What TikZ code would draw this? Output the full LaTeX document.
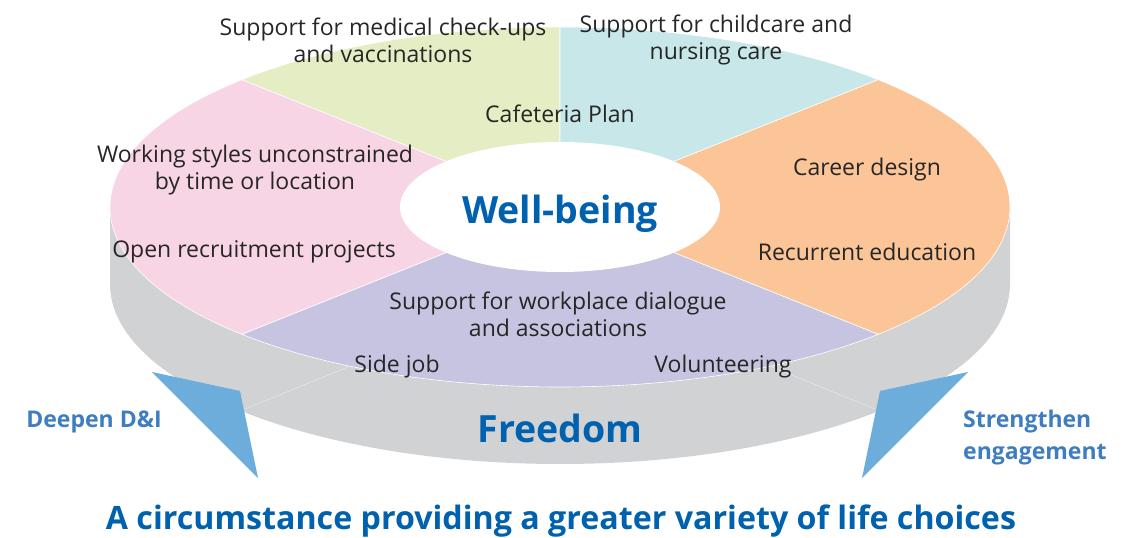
\documentclass[tikz,border=0pt]{standalone}
\usepackage{fontspec}
\setmainfont{Open Sans}
\usetikzlibrary{calc}
\definecolor{cgreen}{HTML}{E4EDC4}
\definecolor{ccyan}{HTML}{C7E7E8}
\definecolor{corange}{HTML}{FBC598}
\definecolor{cpink}{HTML}{F8D5E5}
\definecolor{cpurple}{HTML}{C7C4E1}
\definecolor{cgray}{HTML}{D1D2D4}
\definecolor{ctri}{HTML}{6CADDC}
\definecolor{ctitle}{HTML}{0061AE}
\definecolor{clabel}{HTML}{3F7DC1}
\definecolor{ctext}{HTML}{262626}
\tikzset{
  item/.style={text=ctext, font=\fontsize{23}{27}\selectfont, align=center, inner sep=0pt},
  bigword/.style={text=ctitle, font=\fontsize{37.5}{42}\selectfont\bfseries, inner sep=0pt},
  sidelabel/.style={text=clabel, font=\fontsize{23}{32}\selectfont\bfseries, inner sep=0pt},
  sector/.style={draw=white, line width=0.6pt}
}
\newcommand{\sect}[3]{\fill[#1, sector] (560,207) -- ($(560,207)+(#2:450 and 180)$) arc[start angle=#2, end angle=#3, x radius=450, y radius=180] -- cycle;}
\begin{document}
\begin{tikzpicture}[x=1pt, y=-1pt]
\useasboundingbox (0,0) rectangle (1141,538);
% cylinder side
\fill[cgray] (110,207) -- (110,284) arc[start angle=180, end angle=0, x radius=450, y radius=180] -- (1010,207) -- cycle;
\draw[white, opacity=0.5, line width=0.5pt] (348,367) -- (245,409);
\draw[white, opacity=0.5, line width=0.5pt] (772,367) -- (875,409);
% top sectors
\sect{cgreen}{225}{270}
\sect{ccyan}{270}{315}
\sect{corange}{315}{405}
\sect{cpurple}{45}{135}
\sect{cpink}{135}{225}
\fill[white] (560,207) ellipse[x radius=160, y radius=65];
% triangles
\fill[ctri] (152,372) -- (240,391) -- (258,478) -- cycle;
\fill[ctri] (968,372) -- (880,391) -- (862,478) -- cycle;
% texts
\node[item] (med) at (383,40) {Support for medical check-ups\\and vaccinations};
\node[item] (child) at (716,40) {Support for childcare and\\nursing care};
\node[item] (cafe) at (560,114) {Cafeteria Plan};
\node[item] (work) at (255,170) {Working styles unconstrained\\by time or location};
\node[item] (open) at (254,252) {Open recruitment projects};
\node[item] (career) at (867,170) {Career design};
\node[item] (recur) at (867,252) {Recurrent education};
\node[item] (dial) at (558,314) {Support for workplace dialogue\\and associations};
\node[item] (side) at (397,367) {Side job};
\node[item] (vol) at (723,367) {Volunteering};
\node[bigword] (well) at (560,214) {Well-being};
\node[bigword] (free) at (560,428) {Freedom};
\node[sidelabel] (dni) at (94,422) {Deepen D\&I};
\node[sidelabel, align=left, anchor=west] (eng) at (963,438) {Strengthen\\engagement};
\node[text=ctitle, font=\fontsize{32.2}{36}\selectfont\bfseries, inner sep=0pt] (title) at (561,521) {A circumstance providing a greater variety of life choices};
\end{tikzpicture}
\end{document}
